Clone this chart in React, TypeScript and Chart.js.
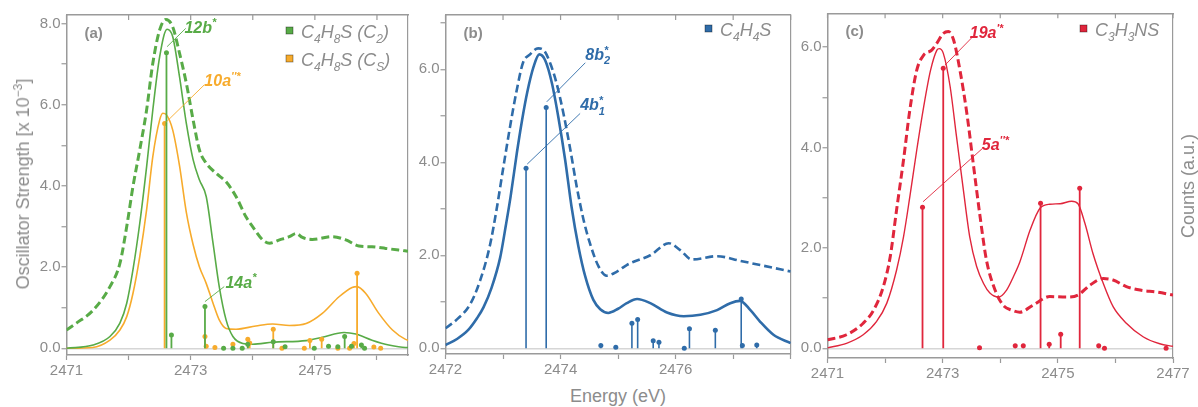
import React, { useEffect, useRef } from 'react';
import { Chart, registerables } from 'chart.js';

Chart.register(...registerables);

type P = [number, number];

// ---------- Panel (a): C4H8S ----------
const aExpC4H8S: P[] = [
  [2471.0, 0.45], [2471.16, 0.62], [2471.43, 0.94], [2471.7, 1.52], [2471.86, 2.09], [2471.97, 3.0],
  [2472.07, 3.98], [2472.18, 4.89], [2472.29, 5.87], [2472.39, 7.02], [2472.5, 7.84], [2472.6, 8.1],
  [2472.71, 7.92], [2472.82, 7.27], [2472.93, 6.53], [2473.04, 5.62], [2473.14, 4.89], [2473.25, 4.56],
  [2473.41, 4.31], [2473.57, 4.1], [2473.73, 3.74], [2473.89, 3.24], [2474.0, 2.99], [2474.16, 2.67],
  [2474.27, 2.59], [2474.43, 2.67], [2474.59, 2.75], [2474.7, 2.83], [2474.8, 2.73], [2474.96, 2.68],
  [2475.28, 2.75], [2475.5, 2.67], [2475.71, 2.52], [2475.92, 2.5], [2476.14, 2.46], [2476.35, 2.42],
  [2476.5, 2.39],
];
const aTheoC2: P[] = [
  [2471.0, 0], [2471.43, 0.08], [2471.7, 0.29], [2471.86, 0.62], [2471.97, 1.11], [2472.07, 1.93],
  [2472.18, 3.08], [2472.29, 4.47], [2472.39, 5.87], [2472.5, 7.18], [2472.62, 7.86], [2472.71, 7.68],
  [2472.82, 6.69], [2472.93, 5.54], [2473.04, 4.64], [2473.14, 4.15], [2473.25, 3.74], [2473.36, 2.59],
  [2473.46, 1.52], [2473.57, 0.7], [2473.68, 0.29], [2473.84, 0.12], [2474.0, 0.1], [2474.32, 0.15],
  [2474.86, 0.19], [2475.12, 0.27], [2475.47, 0.39], [2475.66, 0.35], [2475.92, 0.2], [2476.19, 0.08],
  [2476.46, 0.02], [2476.5, 0.02],
];
const aTheoCs: P[] = [
  [2471.0, 0], [2471.42, 0.02], [2471.7, 0.2], [2471.86, 0.45], [2471.97, 0.78], [2472.07, 1.35],
  [2472.18, 2.26], [2472.29, 3.41], [2472.39, 4.72], [2472.5, 5.62], [2472.55, 5.79], [2472.61, 5.75],
  [2472.71, 5.38], [2472.82, 4.5], [2472.93, 3.35], [2473.04, 2.55], [2473.14, 2.01], [2473.25, 1.6],
  [2473.36, 1.11], [2473.46, 0.7], [2473.57, 0.49], [2473.73, 0.47], [2474.05, 0.55], [2474.32, 0.6],
  [2474.59, 0.56], [2474.86, 0.61], [2475.12, 0.86], [2475.39, 1.27], [2475.6, 1.5], [2475.68, 1.52],
  [2475.82, 1.35], [2476.03, 0.86], [2476.25, 0.45], [2476.46, 0.22], [2476.5, 0.2],
];
const aSticksC2: P[] = [
  [2472.61, 7.28], [2472.69, 0.33], [2473.23, 1.03], [2473.53, 0], [2473.68, 0], [2473.83, 0],
  [2473.92, 0.1], [2474.33, 0.16], [2474.52, 0.04], [2474.99, 0], [2475.22, 0.05], [2475.37, 0.04],
  [2475.48, 0.29], [2475.59, 0.05], [2475.75, 0.08], [2475.8, 0],
];
const aSticksCs: P[] = [
  [2472.58, 5.54], [2473.23, 0.29], [2473.25, 0.05], [2473.39, 0.02], [2473.68, 0.1], [2473.92, 0.22],
  [2473.95, 0.13], [2474.33, 0.47], [2474.47, 0], [2474.83, 0], [2474.92, 0.19], [2475.11, 0.22],
  [2475.37, 0], [2475.56, 0], [2475.63, 0.12], [2475.68, 1.85], [2475.95, 0.03], [2476.06, 0],
];
const aXTicks = [2471, 2472, 2473, 2474, 2475, 2476];
const aXLabels = [2471, 2473, 2475];
const aYTicks = [0, 1, 2, 3, 4, 5, 6, 7, 8];
const aYLabels = [0, 2, 4, 6, 8];

// ---------- Panel (b): C4H4S ----------
const bExpC4H4S: P[] = [
  [2472.0, 0.43], [2472.19, 0.61], [2472.43, 0.95], [2472.6, 1.45], [2472.77, 2.2], [2472.89, 3.0],
  [2473.0, 3.85], [2473.12, 4.75], [2473.23, 5.5], [2473.35, 6.15], [2473.47, 6.32], [2473.61, 6.45],
  [2473.7, 6.42], [2473.82, 6.13], [2473.93, 5.7], [2474.05, 5.05], [2474.17, 4.27], [2474.28, 3.48],
  [2474.4, 2.76], [2474.51, 2.26], [2474.66, 1.76], [2474.8, 1.56], [2474.98, 1.65], [2475.15, 1.79],
  [2475.27, 1.86], [2475.56, 2.0], [2475.88, 2.26], [2476.08, 2.11], [2476.28, 1.91], [2476.72, 1.98],
  [2477.12, 1.88], [2477.47, 1.79], [2478.0, 1.65],
];
const bTheoC4H4S: P[] = [
  [2472.0, 0.07], [2472.2, 0.2], [2472.4, 0.4], [2472.55, 0.65], [2472.66, 0.88], [2472.8, 1.3],
  [2472.95, 1.95], [2473.05, 2.65], [2473.13, 3.25], [2473.24, 4.2], [2473.33, 4.9], [2473.42, 5.5],
  [2473.53, 6.05], [2473.63, 6.32], [2473.73, 6.2], [2473.85, 5.7], [2473.96, 4.98], [2474.08, 4.05],
  [2474.19, 3.05], [2474.31, 2.19], [2474.43, 1.54], [2474.57, 1.04], [2474.69, 0.84], [2474.83, 0.76],
  [2475.0, 0.85], [2475.15, 0.97], [2475.33, 1.06], [2475.56, 0.97], [2475.85, 0.77], [2476.14, 0.69],
  [2476.43, 0.72], [2476.72, 0.82], [2476.95, 0.97], [2477.12, 1.02], [2477.3, 0.82], [2477.47, 0.57],
  [2477.7, 0.29], [2478.0, 0.11],
];
const bSticks: P[] = [
  [2473.4, 3.87], [2473.75, 5.18], [2474.7, 0.06], [2474.96, 0.02], [2475.24, 0.54], [2475.34, 0.62],
  [2475.61, 0.16], [2475.71, 0.13], [2476.15, 0], [2476.24, 0.42], [2476.69, 0.39], [2477.14, 1.06],
  [2477.16, 0.06], [2477.41, 0.07],
];
const bXTicks = [2472, 2473, 2474, 2475, 2476, 2477, 2478];
const bXLabels = [2472, 2474, 2476];
const bYTicks = [0, 1, 2, 3, 4, 5, 6, 7];
const bYLabels = [0, 2, 4, 6];

// ---------- Panel (c): C3H3NS ----------
const cExpC3H3NS: P[] = [
  [2471.0, 0.17], [2471.33, 0.27], [2471.62, 0.5], [2471.8, 0.76], [2471.97, 1.23], [2472.09, 1.83],
  [2472.2, 2.76], [2472.32, 3.75], [2472.43, 4.75], [2472.55, 5.54], [2472.67, 5.84], [2472.81, 5.94],
  [2472.9, 6.08], [2473.01, 6.27], [2473.1, 6.31], [2473.19, 6.14], [2473.3, 5.54], [2473.42, 4.68],
  [2473.53, 3.69], [2473.65, 2.62], [2473.76, 1.76], [2473.91, 1.16], [2474.05, 0.86], [2474.2, 0.76],
  [2474.34, 0.72], [2474.57, 0.86], [2474.86, 1.03], [2475.15, 1.02], [2475.35, 1.06], [2475.56, 1.26],
  [2475.79, 1.39], [2475.96, 1.36], [2476.19, 1.23], [2476.43, 1.16], [2476.72, 1.12], [2477.0, 1.06],
];
const cTheoC3H3NS: P[] = [
  [2471.0, 0.01], [2471.33, 0.1], [2471.62, 0.27], [2471.85, 0.53], [2472.03, 0.9], [2472.2, 1.56],
  [2472.32, 2.22], [2472.43, 3.02], [2472.55, 3.95], [2472.67, 4.81], [2472.79, 5.54], [2472.9, 5.94],
  [2472.94, 5.97], [2473.01, 5.88], [2473.13, 5.21], [2473.24, 4.22], [2473.36, 3.15], [2473.47, 2.22],
  [2473.59, 1.63], [2473.71, 1.29], [2473.82, 1.1], [2473.97, 1.02], [2474.11, 1.16], [2474.23, 1.43],
  [2474.34, 1.72], [2474.52, 2.36], [2474.69, 2.79], [2474.86, 2.87], [2475.04, 2.88], [2475.24, 2.93],
  [2475.35, 2.88], [2475.47, 2.49], [2475.61, 1.89], [2475.79, 1.29], [2475.96, 0.83], [2476.19, 0.5],
  [2476.48, 0.23], [2476.77, 0.09], [2477.0, 0.04],
];
const cSticks: P[] = [
  [2472.65, 2.81], [2473.01, 5.58], [2473.64, 0.01], [2474.26, 0.05], [2474.4, 0.05], [2474.7, 2.89],
  [2474.85, 0.08], [2475.05, 0.28], [2475.38, 3.19], [2475.71, 0.05], [2475.81, 0], [2476.88, 0],
];
const cXTicks = [2471, 2472, 2473, 2474, 2475, 2476, 2477];
const cXLabels = [2471, 2473, 2475, 2477];
const cYTicks = [0, 1, 2, 3, 4, 5, 6];
const cYLabels = [0, 2, 4, 6];

// ---------- styling ----------
const FAMILY = '"Liberation Sans", Arial, sans-serif';
const GRAY = '#8c8c8c';
const AXIS = '#9a9a9a';
const BASE = '#d6d6d6';
const GREEN = '#58ab47';
const ORANGE = '#f7ab2c';
const BLUE = '#2f6ca9';
const RED = '#e0263c';

type Seg = { t?: string; k?: 'sub' | 'sup' | 'subsup'; sub?: string; sup?: string };

function drawRich(ctx: CanvasRenderingContext2D, segs: Seg[], x: number, y: number, size: number, style: string, color: string) {
  let cx = x;
  const small = Math.round(size * 0.66);
  ctx.fillStyle = color;
  ctx.textBaseline = 'alphabetic';
  ctx.textAlign = 'left';
  for (const s of segs) {
    if (s.k === 'subsup') {
      ctx.font = `${style} ${small}px ${FAMILY}`;
      ctx.fillText(s.sub || '', cx, y + size * 0.28);
      ctx.fillText(s.sup || '', cx, y - size * 0.4);
      cx += Math.max(ctx.measureText(s.sub || '').width, ctx.measureText(s.sup || '').width);
    } else if (s.k === 'sub' || s.k === 'sup') {
      ctx.font = `${style} ${small}px ${FAMILY}`;
      ctx.fillText(s.t || '', cx, y + (s.k === 'sub' ? size * 0.28 : -size * 0.4));
      cx += ctx.measureText(s.t || '').width;
    } else {
      ctx.font = `${style} ${size}px ${FAMILY}`;
      ctx.fillText(s.t || '', cx, y);
      cx += ctx.measureText(s.t || '').width;
    }
  }
}

type Annot = { parts: Seg[]; color: string; at: P; from: P; to: P };
type LegendItem = { parts: Seg[]; color: string; dx: number; dy: number };
type Decor = { panel: string; topTicks: number[]; annots: Annot[]; legend: LegendItem[] };

function makeDecor(d: Decor) {
  return {
    id: 'decor' + d.panel,
    afterDatasetsDraw(chart: any) {
      const { ctx, chartArea: ca, scales } = chart;
      const xs = scales.x;
      const ys = scales.y;
      ctx.save();
      ctx.strokeStyle = AXIS;
      ctx.lineWidth = 1.2;
      for (const v of d.topTicks) {
        const px = xs.getPixelForValue(v);
        ctx.beginPath();
        ctx.moveTo(px, ca.top);
        ctx.lineTo(px, ca.top + 5);
        ctx.stroke();
      }
      ctx.fillStyle = GRAY;
      ctx.font = `bold 15px ${FAMILY}`;
      ctx.textBaseline = 'alphabetic';
      ctx.fillText(d.panel, ca.left + 18, ca.top + 23);
      for (const a of d.annots) {
        ctx.strokeStyle = a.color;
        ctx.lineWidth = 0.9;
        ctx.beginPath();
        ctx.moveTo(xs.getPixelForValue(a.from[0]), ys.getPixelForValue(a.from[1]));
        ctx.lineTo(xs.getPixelForValue(a.to[0]), ys.getPixelForValue(a.to[1]));
        ctx.stroke();
        drawRich(ctx, a.parts, xs.getPixelForValue(a.at[0]), ys.getPixelForValue(a.at[1]), 16, 'italic bold', a.color);
      }
      for (const it of d.legend) {
        const x = ca.left + it.dx;
        const y = ca.top + it.dy;
        ctx.fillStyle = it.color;
        ctx.fillRect(x, y - 3.5, 7, 7);
        ctx.strokeStyle = 'rgba(0,0,0,0.45)';
        ctx.lineWidth = 0.8;
        ctx.strokeRect(x, y - 3.5, 7, 7);
        drawRich(ctx, it.parts, x + 15, y + 7.5, 18, 'italic', GRAY);
      }
      ctx.restore();
    },
  };
}

const toXY = (pts: P[]) => pts.map(([x, y]) => ({ x, y }));
const stems = (pts: P[]) => pts.flatMap(([x, y]) => [{ x, y: 0 }, { x, y }, { x, y: null as any }]);

function stemDataset(pts: P[], color: string, width: number) {
  return {
    type: 'line',
    data: stems(pts),
    borderColor: color,
    backgroundColor: color,
    borderWidth: width,
    spanGaps: false,
    tension: 0,
    fill: false,
    pointRadius: (c: any) => (c.dataIndex % 3 === 1 ? 2.5 : 0),
    pointHoverRadius: 0,
    pointBorderWidth: 0,
    pointBackgroundColor: color,
  };
}

function curveDataset(pts: P[], color: string, width: number, dashed: boolean) {
  return {
    type: 'line',
    data: toXY(pts),
    borderColor: color,
    borderWidth: width,
    borderDash: dashed ? [8, 4] : [],
    pointRadius: 0,
    pointHoverRadius: 0,
    cubicInterpolationMode: 'monotone',
    fill: false,
  };
}

type Spec = {
  datasets: any[];
  xMin: number; xMax: number; yMin: number; yMax: number;
  xTicks: number[]; xLabels: number[]; yTicks: number[]; yLabels: number[];
  padTop: number; padRight: number; yAxisW: number; xAxisH: number;
  decor: Decor;
};

function makeConfig(s: Spec): any {
  const font = { family: FAMILY, size: 15 };
  return {
    type: 'line',
    data: { datasets: s.datasets },
    options: {
      responsive: false,
      animation: false,
      events: [],
      layout: { padding: { top: s.padTop, right: s.padRight, left: 0, bottom: 0 } },
      plugins: { legend: { display: false }, tooltip: { enabled: false } },
      scales: {
        x: {
          type: 'linear', position: 'bottom', min: s.xMin, max: s.xMax,
          afterBuildTicks: (sc: any) => { sc.ticks = s.xTicks.map((v) => ({ value: v })); },
          afterFit: (sc: any) => { sc.height = s.xAxisH; sc.paddingLeft = 0; sc.paddingRight = 0; },
          ticks: {
            autoSkip: false, maxRotation: 0, minRotation: 0, padding: 2, color: GRAY, font,
            callback: (v: number) => (s.xLabels.includes(v) ? String(v) : ''),
          },
          grid: { display: true, drawOnChartArea: false, drawTicks: true, tickLength: 5, tickColor: AXIS, tickWidth: 1.2 },
          border: { display: true, color: AXIS, width: 1.5 },
        },
        y: {
          type: 'linear', position: 'left', min: s.yMin, max: s.yMax,
          afterBuildTicks: (sc: any) => { sc.ticks = s.yTicks.map((v) => ({ value: v })); },
          afterFit: (sc: any) => { sc.width = s.yAxisW; sc.paddingTop = 0; sc.paddingBottom = 0; },
          ticks: {
            autoSkip: false, padding: 1, color: GRAY, font,
            callback: (v: number) => (s.yLabels.includes(v) ? v.toFixed(1) : ''),
          },
          grid: {
            display: true, drawOnChartArea: true, drawTicks: true, tickLength: 5,
            color: (c: any) => (c.tick && c.tick.value === 0 ? BASE : 'rgba(0,0,0,0)'),
            lineWidth: 1.5, tickColor: AXIS, tickWidth: 1.2,
          },
          border: { display: true, color: AXIS, width: 1.5 },
        },
        xTop: {
          type: 'linear', position: 'top', min: s.xMin, max: s.xMax,
          ticks: { display: false }, grid: { display: false },
          border: { display: true, color: AXIS, width: 1.5 },
          afterFit: (sc: any) => { sc.height = 0; sc.paddingLeft = 0; sc.paddingRight = 0; },
        },
        yRight: {
          type: 'linear', position: 'right', min: 0, max: 1,
          ticks: { display: false }, grid: { display: false },
          border: { display: true, color: AXIS, width: 1.2, dash: [4, 3] },
          afterFit: (sc: any) => { sc.width = 0; sc.paddingTop = 0; sc.paddingBottom = 0; },
        },
      },
    },
    plugins: [makeDecor(s.decor)],
  };
}

const C = (t: string): Seg => ({ t });
const SB = (t: string): Seg => ({ t, k: 'sub' });
const SP = (t: string): Seg => ({ t, k: 'sup' });

const specA: Spec = {
  datasets: [
    stemDataset(aSticksC2, GREEN, 1.8),
    stemDataset(aSticksCs, ORANGE, 1.8),
    curveDataset(aTheoC2, GREEN, 1.6, false),
    curveDataset(aTheoCs, ORANGE, 1.6, false),
    curveDataset(aExpC4H8S, GREEN, 3, true),
  ],
  xMin: 2471, xMax: 2476.5, yMin: -0.165, yMax: 8.21,
  xTicks: aXTicks, xLabels: aXLabels, yTicks: aYTicks, yLabels: aYLabels,
  padTop: 15, padRight: 4, yAxisW: 66.5, xAxisH: 30,
  decor: {
    panel: '(a)', topTicks: aXTicks,
    annots: [
      { parts: [C('12b'), SP('*')], color: GREEN, at: [2472.9, 7.77], from: [2472.62, 7.43], to: [2472.92, 7.88] },
      { parts: [C('10a'), SP("''*")], color: ORANGE, at: [2473.22, 6.46], from: [2472.61, 5.58], to: [2473.22, 6.49] },
      { parts: [C('14a'), SP('*')], color: GREEN, at: [2473.56, 1.49], from: [2473.23, 1.15], to: [2473.54, 1.52] },
    ],
    legend: [
      { parts: [C('C'), SB('4'), C('H'), SB('8'), C('S ('), C('C'), SB('2'), C(')')], color: GREEN, dx: 219.5, dy: 15.5 },
      { parts: [C('C'), SB('4'), C('H'), SB('8'), C('S ('), C('C'), SB('S'), C(')')], color: ORANGE, dx: 219.5, dy: 43.5 },
    ],
  },
};

const specB: Spec = {
  datasets: [
    stemDataset(bSticks, BLUE, 1.6),
    curveDataset(bTheoC4H4S, BLUE, 2.6, false),
    curveDataset(bExpC4H4S, BLUE, 2.6, true),
  ],
  xMin: 2472, xMax: 2478, yMin: -0.123, yMax: 7.167,
  xTicks: bXTicks, xLabels: bXLabels, yTicks: bYTicks, yLabels: bYLabels,
  padTop: 15, padRight: 4.3, yAxisW: 33.5, xAxisH: 31,
  decor: {
    panel: '(b)', topTicks: bXTicks,
    annots: [
      { parts: [C('8b'), { k: 'subsup', sub: '2', sup: '*' }], color: BLUE, at: [2474.43, 6.2], from: [2473.76, 5.3], to: [2474.43, 6.14] },
      { parts: [C('4b'), { k: 'subsup', sub: '1', sup: '*' }], color: BLUE, at: [2474.34, 5.12], from: [2473.42, 3.96], to: [2474.34, 5.05] },
    ],
    legend: [
      { parts: [C('C'), SB('4'), C('H'), SB('4'), C('S')], color: BLUE, dx: 259.5, dy: 13.5 },
    ],
  },
};

const specC: Spec = {
  datasets: [
    stemDataset(cSticks, RED, 1.8),
    curveDataset(cTheoC3H3NS, RED, 1.4, false),
    curveDataset(cExpC3H3NS, RED, 3, true),
  ],
  xMin: 2471, xMax: 2477, yMin: -0.193, yMax: 6.673,
  xTicks: cXTicks, xLabels: cXLabels, yTicks: cYTicks, yLabels: cYLabels,
  padTop: 13.3, padRight: 25, yAxisW: 32.5, xAxisH: 27,
  decor: {
    panel: '(c)', topTicks: cXTicks,
    annots: [
      { parts: [C('19a'), SP("'*")], color: RED, at: [2473.47, 6.18], from: [2473.04, 5.64], to: [2473.5, 6.18] },
      { parts: [C('5a'), SP("''*")], color: RED, at: [2473.68, 3.95], from: [2472.66, 2.92], to: [2473.69, 3.98] },
    ],
    legend: [
      { parts: [C('C'), SB('3'), C('H'), SB('3'), C('NS')], color: RED, dx: 252.5, dy: 15.2 },
    ],
  },
};

const textStyle: React.CSSProperties = {
  position: 'absolute', color: GRAY, fontFamily: FAMILY, fontSize: 18, whiteSpace: 'nowrap', lineHeight: 1,
};

export default function App() {
  const ra = useRef<HTMLCanvasElement>(null);
  const rb = useRef<HTMLCanvasElement>(null);
  const rc = useRef<HTMLCanvasElement>(null);

  useEffect(() => {
    const charts: Chart[] = [];
    if (ra.current) charts.push(new Chart(ra.current, makeConfig(specA)));
    if (rb.current) charts.push(new Chart(rb.current, makeConfig(specB)));
    if (rc.current) charts.push(new Chart(rc.current, makeConfig(specC)));
    return () => charts.forEach((c) => c.destroy());
  }, []);

  return (
    <div style={{ position: 'absolute', left: 0, top: 0, width: 1198, height: 407, background: '#fff', overflow: 'hidden' }}>
      <canvas ref={ra} width={412} height={385} style={{ position: 'absolute', left: 0, top: 0, width: 412, height: 385 }} />
      <canvas ref={rb} width={383} height={385} style={{ position: 'absolute', left: 412, top: 0, width: 383, height: 385 }} />
      <canvas ref={rc} width={403} height={385} style={{ position: 'absolute', left: 795, top: 0, width: 403, height: 385 }} />
      <div style={{ ...textStyle, left: 22.5, top: 184, transform: 'translate(-50%, -50%) rotate(-90deg)' }}>
        Oscillator Strength [x 10<span style={{ fontSize: 12, position: 'relative', top: -7 }}>−3</span>]
      </div>
      <div style={{ ...textStyle, left: 618, top: 396, transform: 'translate(-50%, -50%)' }}>Energy (eV)</div>
      <div style={{ ...textStyle, left: 1188, top: 186, transform: 'translate(-50%, -50%) rotate(-90deg)' }}>Counts (a.u.)</div>
    </div>
  );
}
